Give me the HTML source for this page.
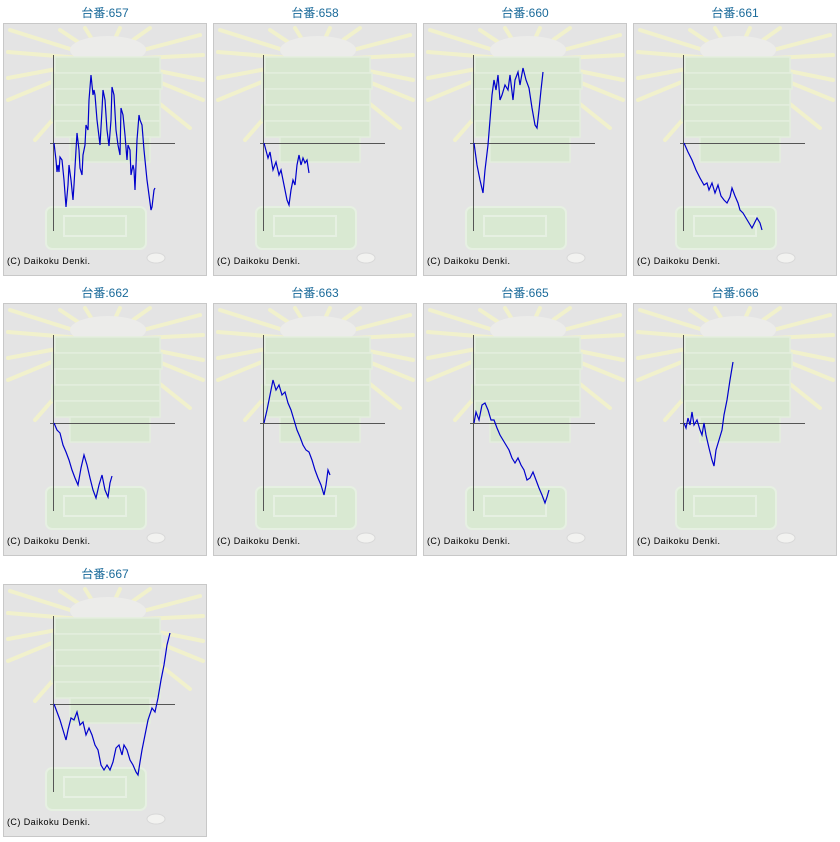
<!DOCTYPE html>
<html><head><meta charset="utf-8"><style>
html,body{margin:0;padding:0;background:#fff;width:840px;height:842px;overflow:hidden}
svg text{font-family:"Liberation Sans","Noto Sans CJK JP",sans-serif}
</style></head><body>
<svg width="840" height="842" viewBox="0 0 840 842" xmlns="http://www.w3.org/2000/svg">
<defs>
<g id="bg">
<rect x="3.5" y="23.5" width="203" height="252" fill="#e4e4e4" stroke="#c8c8c8"/>
<g stroke="#f1f1cc" stroke-width="4" stroke-linecap="round">
<line x1="105" y1="60" x2="10" y2="30"/><line x1="105" y1="60" x2="8" y2="52"/>
<line x1="105" y1="60" x2="8" y2="78"/><line x1="105" y1="60" x2="8" y2="100"/>
<line x1="105" y1="60" x2="35" y2="140"/><line x1="105" y1="60" x2="60" y2="30"/>
<line x1="105" y1="60" x2="85" y2="28"/><line x1="105" y1="60" x2="120" y2="28"/>
<line x1="105" y1="60" x2="150" y2="28"/><line x1="105" y1="60" x2="200" y2="35"/>
<line x1="105" y1="60" x2="203" y2="55"/><line x1="105" y1="60" x2="203" y2="80"/>
<line x1="105" y1="60" x2="203" y2="100"/><line x1="105" y1="60" x2="190" y2="128"/>
</g>
<ellipse cx="108" cy="50" rx="38" ry="14" fill="#ececea"/>
<g fill="#d8e7d0" stroke="#e3eedd" stroke-width="1.5">
<rect x="55" y="57" width="105" height="16"/><rect x="52" y="73" width="110" height="16"/>
<rect x="55" y="89" width="105" height="16"/><rect x="52" y="105" width="108" height="16"/>
<rect x="55" y="121" width="105" height="16"/><rect x="70" y="137" width="80" height="25"/>
</g>
<rect x="46" y="207" width="100" height="42" rx="6" fill="#d9e9d2" stroke="#e6f0e2" stroke-width="2"/>
<rect x="64" y="216" width="62" height="20" fill="none" stroke="#e6f0e2" stroke-width="2"/>
<ellipse cx="156" cy="258" rx="9" ry="5" fill="#f2f2f0" stroke="#d8d8d8"/>
<line x1="53.5" y1="55" x2="53.5" y2="231" stroke="#555"/>
<line x1="50" y1="143.5" x2="175" y2="143.5" stroke="#555"/>
<text x="7" y="264" font-size="9" fill="#000" textLength="83">(C) Daikoku Denki.</text>
</g>
</defs>
<g font-size="12" fill="#1a6a9a" text-anchor="middle">
<text x="105" y="17">台番:657</text><text x="315" y="17">台番:658</text><text x="525" y="17">台番:660</text><text x="735" y="17">台番:661</text>
<text x="105" y="297">台番:662</text><text x="315" y="297">台番:663</text><text x="525" y="297">台番:665</text><text x="735" y="297">台番:666</text>
<text x="105" y="578">台番:667</text>
</g>
<use href="#bg"/><use href="#bg" x="210"/><use href="#bg" x="420"/><use href="#bg" x="630"/>
<use href="#bg" y="280"/><use href="#bg" x="210" y="280"/><use href="#bg" x="420" y="280"/><use href="#bg" x="630" y="280"/>
<use href="#bg" y="561"/>
<g fill="none" stroke="#0000cc" stroke-width="1.2">
<polyline points="54,143 56,160 57,172 58,165 59,172 60,157 62,160 64,180 66,207 68,185 69,165 71,180 73,200 74,185 76,150 77,133 79,150 80,168 82,175 83,155 85,145 86,125 88,130 89,100 91,75 93,95 94,90 95,95 97,120 100,145 102,110 103,90 105,100 107,130 109,146 111,120 112,87 114,95 116,130 118,145 120,155 121,108 123,115 125,135 127,160 128,145 130,150 131,175 133,165 134,170 135,190 137,140 139,115 140,120 142,125 144,150 147,180 149,195 151,210 152,207 154,190 155,188"/>
<polyline points="264,143 268,158 270,152 273,170 276,162 279,175 281,170 284,185 287,200 289,205 291,190 293,180 295,185 297,165 299,155 301,165 303,158 305,163 307,160 309,173"/>
<polyline points="474,143 477,165 480,180 483,193 485,170 488,145 490,120 492,95 494,80 496,90 498,75 500,100 502,95 505,85 508,90 510,75 513,100 515,80 518,72 520,85 523,68 526,80 529,88 532,108 535,125 537,128 539,110 541,90 543,72"/>
<polyline points="684,143 688,152 692,160 696,170 700,178 704,185 707,183 709,190 712,183 715,193 718,185 721,196 724,200 727,203 730,197 732,188 735,196 738,203 740,210 743,213 746,218 749,223 752,228 755,222 757,218 760,223 762,230"/>
<polyline points="54,423 57,430 60,433 63,445 66,452 69,460 72,470 75,478 78,485 81,468 84,455 87,465 90,478 93,490 96,498 99,485 102,475 105,490 108,497 110,483 112,476"/>
<polyline points="264,423 267,410 270,395 273,380 276,390 279,385 282,395 285,392 288,403 291,410 294,420 297,430 300,437 303,445 306,450 309,452 312,460 315,470 318,478 321,485 324,495 326,485 328,470 330,475"/>
<polyline points="474,423 476,412 479,420 482,405 485,403 488,410 491,420 494,420 497,428 500,435 503,440 506,445 509,450 512,458 515,463 518,458 521,465 524,470 527,480 530,478 533,472 536,480 539,488 542,495 545,503 547,497 549,490"/>
<polyline points="684,423 686,428 688,418 690,425 692,412 694,425 697,420 700,430 702,435 704,423 706,435 709,448 712,460 714,466 716,450 719,440 722,430 724,415 727,400 730,380 733,362"/>
<polyline points="54,704 57,712 60,720 63,730 66,740 68,730 71,718 74,720 77,712 80,725 83,722 86,735 89,728 92,735 95,745 98,750 101,765 104,770 107,765 110,770 113,762 116,748 119,745 122,755 124,745 127,750 130,760 133,765 136,772 138,775 140,762 142,750 145,735 148,720 152,708 155,712 158,698 161,680 164,665 167,645 170,633"/>
</g>
</svg>
</body></html>
